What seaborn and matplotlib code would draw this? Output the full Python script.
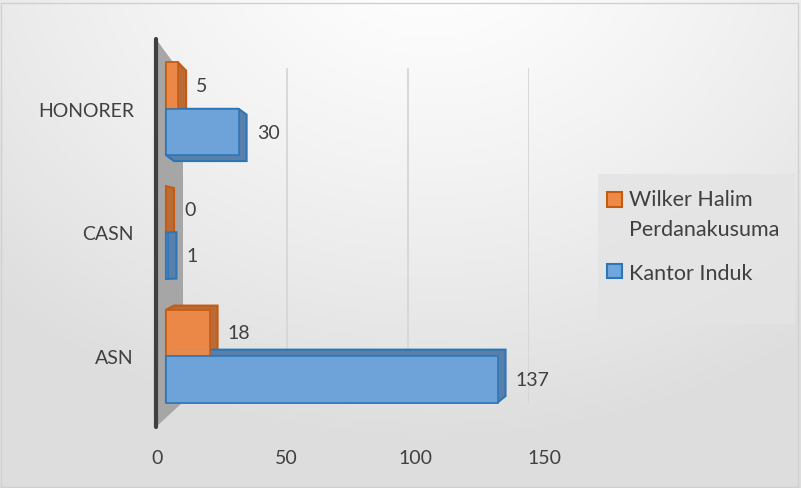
import numpy as np
import pandas as pd
import matplotlib
matplotlib.use("Agg")
import matplotlib.pyplot as plt
import seaborn as sns
from matplotlib.patches import Polygon, Rectangle
from matplotlib.transforms import IdentityTransform, ScaledTranslation
from matplotlib.colors import to_rgb
from matplotlib.legend_handler import HandlerPatch

# ---- data ----
categories = ["HONORER", "CASN", "ASN"]
series_names = ["Wilker Halim Perdanakusuma", "Kantor Induk"]
legend_labels = ["Wilker Halim\nPerdanakusuma", "Kantor Induk"]
wilker = [5, 0, 18]
kantor = [30, 1, 137]
x_ticks = [0, 50, 100, 150]

df = pd.DataFrame({
    "Kategori": categories * 2,
    "Unit": [series_names[0]] * 3 + [series_names[1]] * 3,
    "Jumlah": wilker + kantor,
})

W, H = 801, 489
sns.set_theme(style="white")
plt.rcParams["font.family"] = ["Lato", "DejaVu Sans"]
TXT = "#404040"

fig = plt.figure(figsize=(W / 100, H / 100), dpi=100)

# background gradient
bg = fig.add_axes([0, 0, 1, 1], zorder=-10)
yy, xx = np.mgrid[0:H, 0:W]
r = np.sqrt(((xx - 430) / 1.0) ** 2 + ((yy + 60) * 1.25) ** 2)
v = 1.0 - 0.13 * np.clip(r / 620, 0, 1) ** 1.3
bg.imshow(np.dstack([v, v, v]), aspect="auto", extent=[0, 1, 0, 1], origin="upper")
bg.set_axis_off()
fig.add_artist(Rectangle((1 / W, 1 / H), 1 - 4 / W, 1 - 5 / H, transform=fig.transFigure,
                         fill=False, edgecolor="#d0d0d0", linewidth=1))

def fy(img_y):
    return 1 - img_y / H

ax_left, ax_right = 166, 166 + 150 * 2.42
ax_top, ax_bot = 48, 419
ax = fig.add_axes([ax_left / W, fy(ax_bot), (ax_right - ax_left) / W, (ax_bot - ax_top) / H])
ax.patch.set_alpha(0)

orange, blue = "#EE8A48", "#6FA6DC"
orange_e, blue_e = "#C55A11", "#2E75B6"
sns.barplot(data=df, y="Kategori", x="Jumlah", hue="Unit", order=categories,
            hue_order=series_names, orient="h", palette=[orange, blue], saturation=1,
            width=0.75, ax=ax, zorder=3, legend=True)

ax.set_xlim(0, 150)
ax.set_ylim(2.5, -0.5)
ax.set_xticks(x_ticks)
ax.set_xlabel("")
ax.set_ylabel("")
for s in ax.spines.values():
    s.set_visible(False)
ax.tick_params(axis="x", length=0, pad=22, labelsize=14, colors=TXT)
ax.tick_params(axis="y", length=0, pad=23, labelsize=14, colors=TXT)
# perspective shift of the floor tick labels
for val, lab in zip(x_ticks, ax.get_xticklabels()):
    dx_px = -9 + 24 * (val / 150)
    lab.set_transform(lab.get_transform() + ScaledTranslation(dx_px / 100, 0, fig.dpi_scale_trans))
ax.vlines(x_ticks[1:], -0.33, 2.38, color="#d6d6d6", linewidth=1.3, zorder=1)

def to_disp(ix, iy):
    return (ix, H - iy)

# wall
x0d = ax.transData.transform((0, 0))[0]
wall = [to_disp(x0d - 10, 40), to_disp(x0d + 17, 77), to_disp(x0d + 17, 403), to_disp(x0d - 10, 428)]
ax.add_patch(Polygon(wall, closed=True, transform=IdentityTransform(), facecolor="#a6a6a6",
                     edgecolor="none", clip_on=False, zorder=1.5))
ax.add_line(plt.Line2D([x0d - 10, x0d - 10], [H - 40, H - 428], transform=IdentityTransform(),
                       color="#3f3f3f", linewidth=3, clip_on=False, zorder=2))

def darker(c, f):
    r_, g_, b_ = to_rgb(c)
    return (r_ * f, g_ * f, b_ * f)

def cross(o, a, b):
    return (a[0] - o[0]) * (b[1] - o[1]) - (a[1] - o[1]) * (b[0] - o[0])

def hull(points):
    P = sorted(set(map(tuple, points)))
    lower, upper = [], []
    for q in P:
        while len(lower) >= 2 and cross(lower[-2], lower[-1], q) <= 0:
            lower.pop()
        lower.append(q)
    for q in reversed(P):
        while len(upper) >= 2 and cross(upper[-2], upper[-1], q) <= 0:
            upper.pop()
        upper.append(q)
    return lower[:-1] + upper[:-1]

center_disp = H - 250
for cont, fc, ec in zip(ax.containers, [orange, blue], [orange_e, blue_e]):
    for p in cont.patches:
        (xa, ya), (xb, yb) = ax.transData.transform([(p.get_x(), p.get_y()),
                                                      (p.get_x() + p.get_width(), p.get_y() + p.get_height())])
        xa, xb = min(xa, xb), max(xa, xb)
        ya, yb = min(ya, yb), max(ya, yb)
        cy = (ya + yb) / 2
        dx = 8
        dy = 0.05 * (center_disp - cy)
        pts = [(xa, ya), (xb, ya), (xb, yb), (xa, yb),
               (xa + dx, ya + dy), (xb + dx, ya + dy), (xb + dx, yb + dy), (xa + dx, yb + dy)]
        ax.add_patch(Polygon(hull(pts), closed=True, transform=IdentityTransform(),
                             facecolor=darker(fc, 0.78), edgecolor=ec, linewidth=1.5,
                             clip_on=False, zorder=2.5))
        p.set_edgecolor(ec)
        p.set_linewidth(1.2)
        p.set_alpha(0.95)
    ax.bar_label(cont, padding=13, fontsize=14, color=TXT)

# legend
ax.get_legend().remove()
fig.add_artist(Rectangle((598 / W, fy(325)), 197 / W, 150 / H, transform=fig.transFigure,
                         facecolor="#e4e4e4", edgecolor="none", alpha=0.85))
handles = [Rectangle((0, 0), 1, 1, facecolor=orange, edgecolor=orange_e, linewidth=1.5),
           Rectangle((0, 0), 1, 1, facecolor=blue, edgecolor=blue_e, linewidth=1.5)]

def top_patch(legend, orig_handle, xdescent, ydescent, width, height, fontsize):
    return Rectangle((-xdescent, -ydescent + 11), width, height)

leg = fig.legend(handles, legend_labels, loc="upper left",
                 bbox_to_anchor=(603 / W, fy(186)), frameon=False, fontsize=15.5, labelcolor=TXT,
                 handlelength=0.68, handleheight=0.68, handletextpad=0.35, labelspacing=1.1,
                 borderaxespad=0, borderpad=0.2,
                 handler_map={handles[0]: HandlerPatch(patch_func=top_patch)})
for t in leg.get_texts():
    t.set_linespacing(1.6)

fig.savefig("out.png", dpi=100)
